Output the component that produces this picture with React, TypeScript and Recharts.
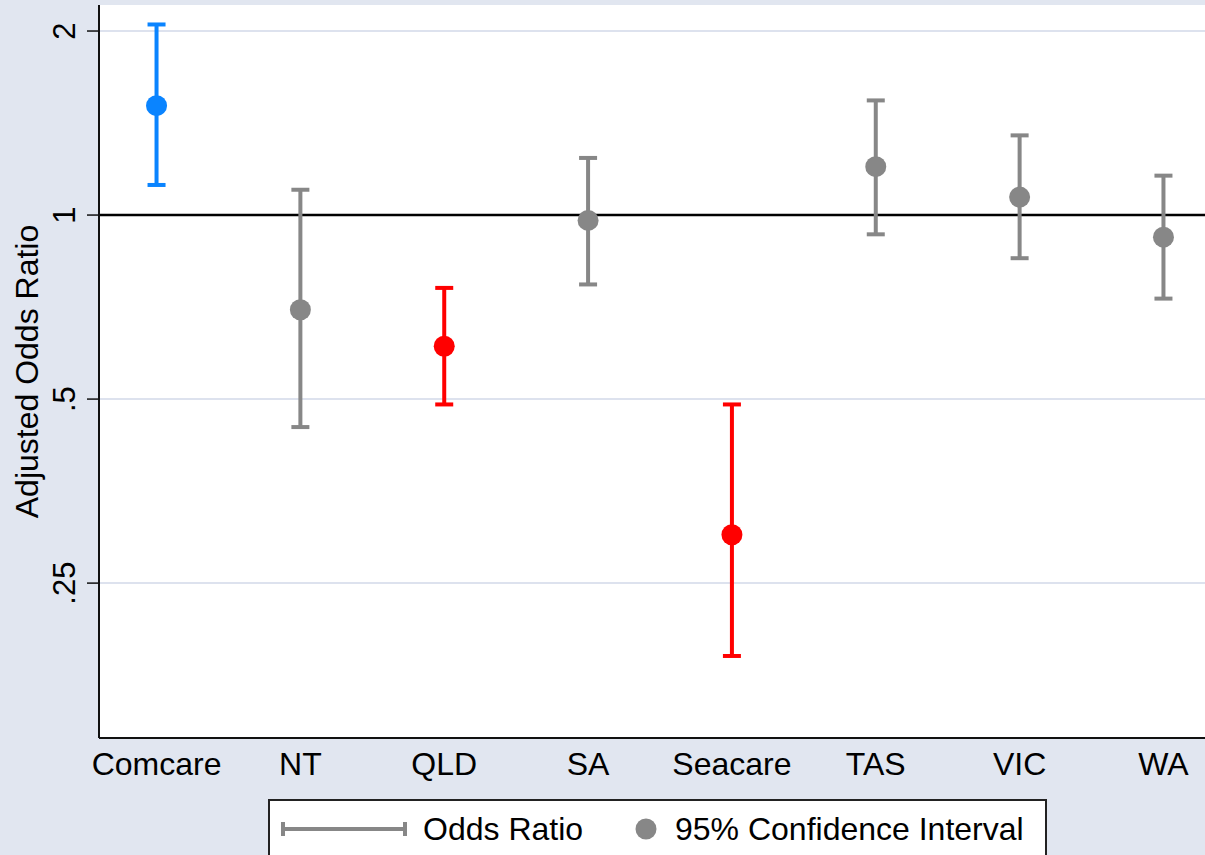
import { ScatterChart, Scatter, XAxis, YAxis, CartesianGrid, ErrorBar, ReferenceLine, Label } from 'recharts';

const categories = ['Comcare', 'NT', 'QLD', 'SA', 'Seacare', 'TAS', 'VIC', 'WA'];
const oddsRatio = [1.51, 0.70, 0.61, 0.98, 0.30, 1.20, 1.07, 0.92];
const ciLower = [1.12, 0.45, 0.49, 0.77, 0.19, 0.93, 0.85, 0.73];
const ciUpper = [2.05, 1.10, 0.76, 1.24, 0.49, 1.54, 1.35, 1.16];
const colorGroup = ['blue', 'gray', 'red', 'gray', 'red', 'gray', 'gray', 'gray'];
const yTicks = [0.25, 0.5, 1, 2];
const yTickLabels = ['.25', '.5', '1', '2'];

const COLORS: Record<string, string> = { blue: '#0a84ff', red: '#ff0000', gray: '#878787' };
const FONT = '"Liberation Sans", Arial, sans-serif';
const BG = '#e1e6f0';

const buildSeries = (group: string) =>
  categories
    .map((name, i) => ({
      name,
      x: i + 1,
      y: oddsRatio[i],
      err: [oddsRatio[i] - ciLower[i], ciUpper[i] - oddsRatio[i]],
      group: colorGroup[i],
    }))
    .filter(d => d.group === group);

const YTick = (props: any) => {
  const { x, y, payload } = props;
  const idx = yTicks.indexOf(payload.value);
  const tx = x - 10;
  return (
    <text x={tx} y={y} transform={`rotate(-90, ${tx}, ${y})`} textAnchor="middle"
      style={{ fontFamily: FONT, fontSize: 31, fill: '#000' }}>
      {idx >= 0 ? yTickLabels[idx] : payload.value}
    </text>
  );
};

const dot = (color: string) => (props: any) => (
  <circle cx={props.cx} cy={props.cy} r={10.5} fill={color} />
);

export default function App() {
  const groups = ['gray', 'red', 'blue'];
  return (
    <div style={{ position: 'fixed', left: 0, top: 0, width: 1205, height: 855, overflow: 'hidden', background: BG }}>
      <ScatterChart width={1230} height={855} margin={{ top: 5, right: 9, left: 0, bottom: 0 }}>
        <CartesianGrid vertical={false} fill="#ffffff" stroke="#dde2ee" strokeWidth={2} horizontalValues={yTicks} />
        <XAxis
          type="number"
          dataKey="x"
          domain={[0.6, 8.4]}
          ticks={[1, 2, 3, 4, 5, 6, 7, 8]}
          tickFormatter={(v: number) => categories[v - 1]}
          height={117}
          tickLine={false}
          tickSize={6}
          tickMargin={8}
          axisLine={{ stroke: '#111', strokeWidth: 2 }}
          tick={{ fontFamily: FONT, fontSize: 32, fill: '#000' }}
          allowDataOverflow
        />
        <YAxis
          type="number"
          dataKey="y"
          scale="log"
          domain={[0.1395, 2.206]}
          ticks={yTicks}
          width={99}
          tickSize={12}
          tickLine={{ stroke: '#111', strokeWidth: 1.5 }}
          axisLine={{ stroke: '#111', strokeWidth: 2 }}
          tick={<YTick />}
          allowDataOverflow
        >
          <Label
            content={(p: any) => {
              const vb = p.viewBox;
              const lx = vb.x + 38;
              const ly = vb.y + vb.height / 2;
              return (
                <text x={lx} y={ly} transform={`rotate(-90, ${lx}, ${ly})`} textAnchor="middle"
                  style={{ fontFamily: FONT, fontSize: 32, fill: '#000' }}>
                  Adjusted Odds Ratio
                </text>
              );
            }}
          />
        </YAxis>
        <ReferenceLine y={1} stroke="#000" strokeWidth={2.5} />
        {groups.map(g => (
          <Scatter key={g} data={buildSeries(g)} fill={COLORS[g]} shape={dot(COLORS[g])} isAnimationActive={false}>
            <ErrorBar dataKey="err" direction="y" width={9} strokeWidth={4} stroke={COLORS[g]} />
          </Scatter>
        ))}
      </ScatterChart>
      <div
        style={{
          position: 'absolute', left: 268, top: 799, width: 779, height: 80,
          background: '#fff', border: '2px solid #222', boxSizing: 'border-box',
          fontFamily: FONT, fontSize: 32, color: '#000',
        }}
      >
        <svg width={779} height={60} style={{ position: 'absolute', left: -2, top: -2 }}>
          <line x1={15} x2={137} y1={30} y2={30} stroke={COLORS.gray} strokeWidth={4} />
          <line x1={15} x2={15} y1={23} y2={37} stroke={COLORS.gray} strokeWidth={4} />
          <line x1={137} x2={137} y1={23} y2={37} stroke={COLORS.gray} strokeWidth={4} />
          <text x={155} y={41} style={{ fontFamily: FONT, fontSize: 32 }}>Odds Ratio</text>
          <circle cx={378} cy={30} r={10.5} fill={COLORS.gray} />
          <text x={407} y={41} style={{ fontFamily: FONT, fontSize: 32 }}>95% Confidence Interval</text>
        </svg>
      </div>
    </div>
  );
}
